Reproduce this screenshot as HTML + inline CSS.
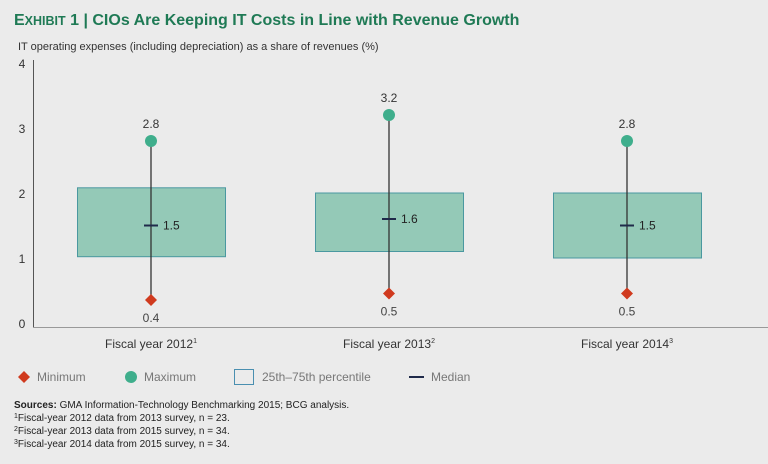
<!DOCTYPE html>
<html><head><meta charset="utf-8"><style>
body{margin:0;background:#ebebeb;}
svg{display:block;font-family:"Liberation Sans",sans-serif;}
</style></head><body>
<svg id="c" width="768" height="464" viewBox="0 0 768 464">
<rect width="768" height="464" fill="#ebebeb"/>
<text x="14" y="25" font-size="16" font-weight="bold" fill="#1f7a55">E<tspan font-size="12.5">XHIBIT</tspan> 1 | CIOs Are Keeping IT Costs in Line with Revenue Growth</text>
<text x="18" y="50" font-size="11" fill="#333">IT operating expenses (including depreciation) as a share of revenues (%)</text>
<line x1="33.5" y1="60" x2="33.5" y2="327" stroke="#555" stroke-width="1"/>
<line x1="33" y1="327.5" x2="768" y2="327.5" stroke="#999" stroke-width="1"/>
<g id="ticks"></g><g id="boxes"></g>
<g font-size="12" fill="#777">
<path d="M24 371 L30 377 L24 383 L18 377Z" fill="#d03a1e"/>
<text x="37" y="381">Minimum</text>
<circle cx="131" cy="377" r="6" fill="#3fae8c"/>
<text x="144" y="381">Maximum</text>
<rect x="234.5" y="369.5" width="19" height="15" fill="none" stroke="#4a8fb0"/>
<text x="262" y="381">25th–75th percentile</text>
<line x1="409" y1="377" x2="424" y2="377" stroke="#1f2a4a" stroke-width="2"/>
<text x="431" y="381">Median</text>
</g>
<g font-size="10" fill="#222">
<text x="14" y="408"><tspan font-weight="bold">Sources:</tspan> GMA Information-Technology Benchmarking 2015; BCG analysis.</text>
<text x="14" y="421"><tspan font-size="7" dy="-3">1</tspan><tspan dy="3">Fiscal-year 2012 data from 2013 survey, n = 23.</tspan></text>
<text x="14" y="434"><tspan font-size="7" dy="-3">2</tspan><tspan dy="3">Fiscal-year 2013 data from 2015 survey, n = 34.</tspan></text>
<text x="14" y="447"><tspan font-size="7" dy="-3">3</tspan><tspan dy="3">Fiscal-year 2014 data from 2015 survey, n = 34.</tspan></text>
</g>
</svg>
<script>
const categories=["Fiscal year 2012","Fiscal year 2013","Fiscal year 2014"];
const sups=["1","2","3"];
const minVals=[0.4,0.5,0.5];
const maxVals=[2.8,3.2,2.8];
const q1Vals=[1.02,1.1,1.0];
const q3Vals=[2.08,2.0,2.0];
const medVals=[1.5,1.6,1.5];
const yTicks=[0,1,2,3,4];
const NS="http://www.w3.org/2000/svg";
const y=v=>323-v*65;
const x=i=>151+i*238;
function mk(t,a,p){const e=document.createElementNS(NS,t);for(const k in a)e.setAttribute(k,a[k]);p.appendChild(e);return e;}
const tg=document.getElementById('ticks');
yTicks.forEach(v=>{const t=mk('text',{x:22,y:y(v)+5,'font-size':12,fill:'#333','text-anchor':'middle'},tg);t.textContent=v;

});
const bg=document.getElementById('boxes');
categories.forEach((c,i)=>{
 const cx=x(i);
 const g=mk('g',{},bg);
 
 
 const r=mk('rect',{x:cx-73.5,y:y(q3Vals[i]),width:148,height:y(q1Vals[i])-y(q3Vals[i]),fill:'#94c9b7',stroke:'#4a98a0','stroke-width':1},g);
 
 
 const w=mk('line',{x1:cx,x2:cx,y1:y(maxVals[i]),y2:y(minVals[i]),stroke:'#333','stroke-width':1.3},g);
 
 
 const m=mk('line',{x1:cx-7,x2:cx+7,y1:y(medVals[i]),y2:y(medVals[i]),stroke:'#1f2a4a','stroke-width':2},g);
 
 
 const ml=mk('text',{x:cx+12,y:y(medVals[i])+4,'font-size':12,fill:'#222'},g);ml.textContent=medVals[i].toFixed(1);
 
 
 const mx=mk('circle',{cx:cx,cy:y(maxVals[i]),r:6,fill:'#3fae8c'},g);
 
 
 const mxl=mk('text',{x:cx,y:y(maxVals[i])-13,'font-size':12,fill:'#333','text-anchor':'middle'},g);mxl.textContent=maxVals[i].toFixed(1);
 
 
 const my=y(minVals[i])+3;
 const mn=mk('path',{d:`M${cx} ${my-6}L${cx+6} ${my}L${cx} ${my+6}L${cx-6} ${my}Z`,fill:'#d03a1e'},g);
 
 
 const mnl=mk('text',{x:cx,y:my+22,'font-size':12,fill:'#444','text-anchor':'middle'},g);mnl.textContent=minVals[i].toFixed(1);
 
 
 const cl=mk('text',{x:cx,y:348,'font-size':12,fill:'#333','text-anchor':'middle'},g);
 cl.textContent=c;const s=mk('tspan',{'font-size':7,dy:-5},cl);s.textContent=sups[i];
 
 
});
</script>
</body></html>
